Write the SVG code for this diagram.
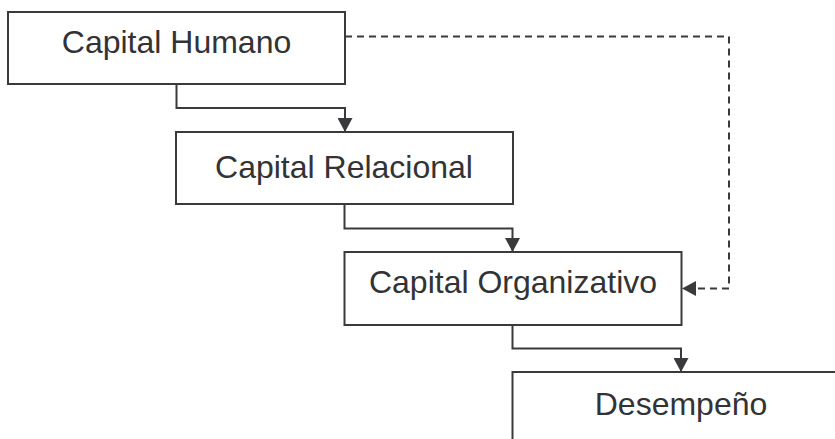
<svg xmlns="http://www.w3.org/2000/svg" width="835" height="439" viewBox="0 0 835 439">
  <style>
    .box rect { fill: #ffffff; stroke: #3a3a3c; stroke-width: 2; }
    .box text { font-family: "Liberation Sans", Arial, sans-serif; font-size: 32px; fill: #333335; text-anchor: middle; }
    .link { fill: none; stroke: #3a3a3c; stroke-width: 2; }
    .dashed { stroke-dasharray: 7 5; }
  </style>
  <defs>
    <marker id="arrowBig" viewBox="0 0 14 15" refX="14" refY="7.5" markerWidth="14" markerHeight="15" markerUnits="userSpaceOnUse" orient="auto">
      <path d="M0,0 L14,7.5 L0,15 Z" fill="#3a3a3c"/>
    </marker>
  </defs>

  <g id="connectors">
    <path class="link" d="M176.5,84 V108 H345 V132" marker-end="url(#arrowBig)"/>
    <path class="link" d="M344.5,204 V228.5 H512.5 V252" marker-end="url(#arrowBig)"/>
    <path class="link" d="M512.5,325 V348.5 H681 V372" marker-end="url(#arrowBig)"/>
    <path class="link dashed" d="M345,36.5 H729 V288.5 H682" marker-end="url(#arrowBig)"/>
  </g>

  <g id="capital-humano" class="box">
    <rect x="8" y="12" width="337" height="72"/>
    <text x="176.5" y="53">Capital Humano</text>
  </g>
  <g id="capital-relacional" class="box">
    <rect x="176" y="132" width="337" height="72"/>
    <text x="344" y="178">Capital Relacional</text>
  </g>
  <g id="capital-organizativo" class="box">
    <rect x="344.5" y="252" width="337" height="73"/>
    <text x="513" y="293">Capital Organizativo</text>
  </g>
  <g id="desempeno" class="box">
    <rect x="512.5" y="372" width="337" height="72"/>
    <text x="681" y="415">Desempeño</text>
  </g>
</svg>
